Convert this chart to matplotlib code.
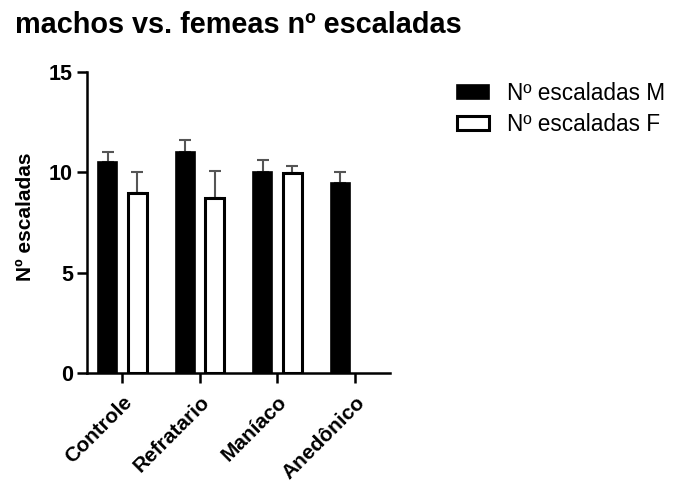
import matplotlib
matplotlib.use("Agg")
import matplotlib.pyplot as plt
import numpy as np

plt.rcParams['font.family'] = ['Liberation Sans', 'DejaVu Sans']

categories = ['Controle', 'Refratario', 'Maníaco', 'Anedônico']
machos = [10.5, 11.0, 10.0, 9.5]
machos_err = [0.5, 0.6, 0.6, 0.5]
femeas = [9.0, 8.75, 9.95, 0.0]
femeas_err = [1.0, 1.3, 0.35, 0.0]
has_femea = [True, True, True, False]

fig = plt.figure(figsize=(6.78, 4.84), dpi=100)
ax = fig.add_axes([0.128, 0.229, 0.447, 0.622])

x = np.arange(len(categories))
w = 0.245
off = 0.19

ax.bar(x - off, machos, w, color='black', edgecolor='black', linewidth=1.2,
       label='Nº escaladas M', zorder=2)
ax.errorbar(x - off, machos, yerr=[np.zeros(len(machos)), machos_err], fmt='none',
            ecolor='#555555', elinewidth=1.5, capsize=4, capthick=1.5, zorder=1)

xf = x[has_femea] + off
fv = np.array(femeas)[has_femea]
fe = np.array(femeas_err)[has_femea]
ax.bar(xf, fv, w, color='white', edgecolor='black', linewidth=2.2,
       label='Nº escaladas F', zorder=2)
ax.errorbar(xf, fv, yerr=[np.zeros(len(fv)), fe], fmt='none',
            ecolor='#555555', elinewidth=1.5, capsize=4, capthick=1.5, zorder=1)

ax.set_xlim(-0.46, 3.45)
ax.set_ylim(0, 15)
ax.set_yticks([0, 5, 10, 15])
ax.set_xticks(x)
ax.set_xticklabels(categories, rotation=45, ha='right', rotation_mode='anchor',
                   fontsize=15, fontweight='bold')
for lab in ax.get_yticklabels():
    lab.set_fontweight('bold')
    lab.set_fontsize(15.5)

for s in ['top', 'right']:
    ax.spines[s].set_visible(False)
for s in ['left', 'bottom']:
    ax.spines[s].set_linewidth(1.8)
ax.tick_params(axis='both', width=1.8, length=7, direction='out', pad=3)
ax.tick_params(axis='x', pad=7)

ax.set_ylabel('Nº escaladas', fontsize=15, fontweight='bold', labelpad=10)
ax.yaxis.set_label_coords(-0.17, 0.52)
fig.text(0.022, 0.948, 'machos vs. femeas nº escaladas', fontsize=20.8,
         fontweight='bold', va='center')

fig.legend(loc='upper left', bbox_to_anchor=(0.674, 0.83), frameon=False,
           fontsize=16.3, handlelength=1.4, handleheight=0.6,
           handletextpad=0.8, labelspacing=0.35, borderaxespad=0, borderpad=0)

fig.savefig('out.png', dpi=100)
